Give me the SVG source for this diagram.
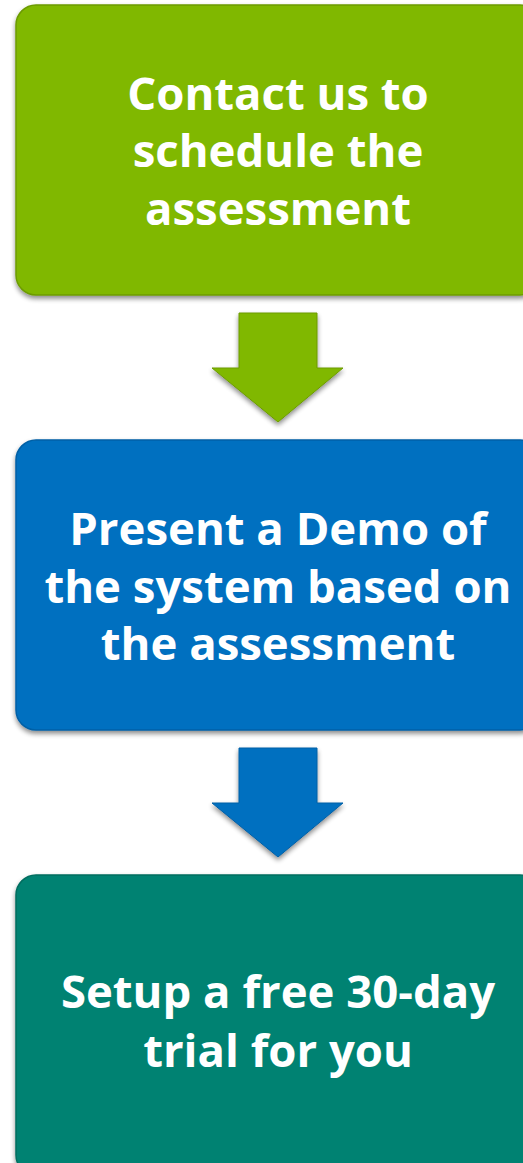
<svg xmlns="http://www.w3.org/2000/svg" width="523" height="1163" viewBox="0 0 523 1163">
<style>
.lbl{font-family:"Open Sans","Noto Sans","DejaVu Sans",sans-serif;font-weight:bold;font-size:45.5px;fill:#fff;text-anchor:middle}
</style>
<defs>
<filter id="sh" x="-10%" y="-10%" width="120%" height="125%">
<feGaussianBlur in="SourceAlpha" stdDeviation="2.5"/>
<feOffset dx="0" dy="3" result="b"/>
<feComponentTransfer><feFuncA type="linear" slope="0.45"/></feComponentTransfer>
<feMerge><feMergeNode/><feMergeNode in="SourceGraphic"/></feMerge>
</filter>
</defs>
<rect width="523" height="1163" fill="#fff"/>
<g id="n1">
<rect x="16" y="5" width="524" height="290" rx="20" fill="#80B800" stroke="#6C9B00" stroke-width="1.5" filter="url(#sh)"/>
<text class="lbl" x="278" y="110">Contact us to</text>
<text class="lbl" x="278" y="167">schedule the</text>
<text class="lbl" x="278" y="225">assessment</text>
</g>
<g id="n2">
<rect x="16" y="440" width="524" height="290" rx="20" fill="#0070C0" stroke="#0060A6" stroke-width="1.5" filter="url(#sh)"/>
<text class="lbl" x="278" y="545">Present a Demo of</text>
<text class="lbl" x="278" y="603">the system based on</text>
<text class="lbl" x="278" y="660">the assessment</text>
</g>
<g id="n3">
<rect x="16" y="875" width="524" height="300" rx="20" fill="#008272" stroke="#006E60" stroke-width="1.5" filter="url(#sh)"/>
<text class="lbl" x="278" y="1008">Setup a free 30-day</text>
<text class="lbl" x="278" y="1067">trial for you</text>
</g>
<g id="connectors">
<polygon points="239,313 317,313 317,368 343,368 278,422 212,368 239,368" fill="#80B800" stroke="#6C9B00" stroke-width="1" filter="url(#sh)"/>
<polygon points="239,748 317,748 317,803 343,803 278,857 212,803 239,803" fill="#0070C0" stroke="#0060A6" stroke-width="1" filter="url(#sh)"/>
</g>
</svg>
